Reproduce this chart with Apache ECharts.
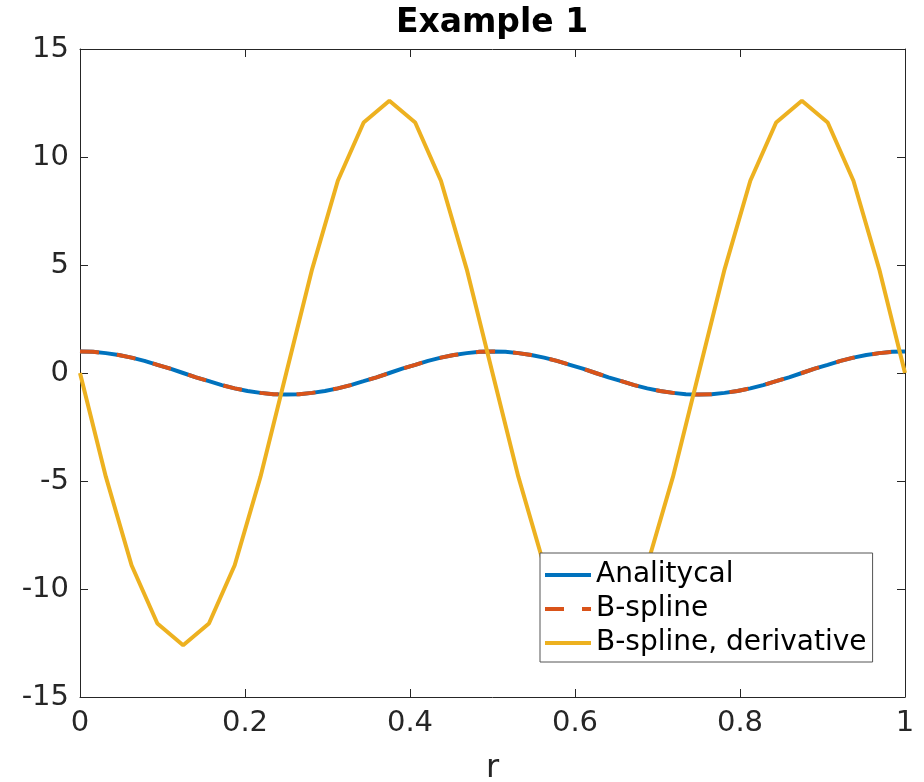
<!DOCTYPE html>
<html>
<head>
<meta charset="utf-8">
<script src="https://cdn.jsdelivr.net/npm/echarts@6/dist/echarts.min.js"></script>
<style>html,body{margin:0;padding:0;background:#fff;}#c{width:924px;height:782px;}</style>
</head>
<body>
<div id="c"></div>
<script>
var rFine = [0, 0.0156, 0.0313, 0.0469, 0.0625, 0.0781, 0.0938, 0.1094, 0.125, 0.1406, 0.1563, 0.1719, 0.1875, 0.2031, 0.2188, 0.2344, 0.25, 0.2656, 0.2813, 0.2969, 0.3125, 0.3281, 0.3438, 0.3594, 0.375, 0.3906, 0.4063, 0.4219, 0.4375, 0.4531, 0.4688, 0.4844, 0.5, 0.5156, 0.5313, 0.5469, 0.5625, 0.5781, 0.5938, 0.6094, 0.625, 0.6406, 0.6563, 0.6719, 0.6875, 0.7031, 0.7188, 0.7344, 0.75, 0.7656, 0.7813, 0.7969, 0.8125, 0.8281, 0.8438, 0.8594, 0.875, 0.8906, 0.9063, 0.9219, 0.9375, 0.9531, 0.9688, 0.9844, 1];
var analyticalY = [1, 0.98, 0.92, 0.83, 0.71, 0.56, 0.38, 0.2, 0, -0.2, -0.38, -0.56, -0.71, -0.83, -0.92, -0.98, -1, -0.98, -0.92, -0.83, -0.71, -0.56, -0.38, -0.2, 0, 0.2, 0.38, 0.56, 0.71, 0.83, 0.92, 0.98, 1, 0.98, 0.92, 0.83, 0.71, 0.56, 0.38, 0.2, 0, -0.2, -0.38, -0.56, -0.71, -0.83, -0.92, -0.98, -1, -0.98, -0.92, -0.83, -0.71, -0.56, -0.38, -0.2, 0, 0.2, 0.38, 0.56, 0.71, 0.83, 0.92, 0.98, 1];
var bsplineY = [1, 0.98, 0.92, 0.83, 0.71, 0.56, 0.38, 0.2, 0, -0.2, -0.38, -0.56, -0.71, -0.83, -0.92, -0.98, -1, -0.98, -0.92, -0.83, -0.71, -0.56, -0.38, -0.2, 0, 0.2, 0.38, 0.56, 0.71, 0.83, 0.92, 0.98, 1, 0.98, 0.92, 0.83, 0.71, 0.56, 0.38, 0.2, 0, -0.2, -0.38, -0.56, -0.71, -0.83, -0.92, -0.98, -1, -0.98, -0.92, -0.83, -0.71, -0.56, -0.38, -0.2, 0, 0.2, 0.38, 0.56, 0.71, 0.83, 0.92, 0.98, 1];
var rCoarse = [0, 0.0313, 0.0625, 0.0938, 0.125, 0.1563, 0.1875, 0.2188, 0.25, 0.2813, 0.3125, 0.3438, 0.375, 0.4063, 0.4375, 0.4688, 0.5, 0.5313, 0.5625, 0.5938, 0.625, 0.6563, 0.6875, 0.7188, 0.75, 0.7813, 0.8125, 0.8438, 0.875, 0.9063, 0.9375, 0.9688, 1];
var derivativeY = [0, -4.8, -8.9, -11.6, -12.6, -11.6, -8.9, -4.8, 0, 4.8, 8.9, 11.6, 12.6, 11.6, 8.9, 4.8, 0, -4.8, -8.9, -11.6, -12.6, -11.6, -8.9, -4.8, 0, 4.8, 8.9, 11.6, 12.6, 11.6, 8.9, 4.8, 0];
var seriesNames = ['Analitycal', 'B-spline', 'B-spline, derivative'];
var titleText = 'Example 1';
var xName = 'r';

function zip(xs, ys) { return xs.map(function (x, i) { return [x, ys[i]]; }); }

var FONT = 'DejaVu Sans';
var AX = '#262626';
var C1 = '#0072BD', C2 = '#D95319', C3 = '#EDB120';
var SOLID_ICON = 'path://M0,0H46V4H0Z';
var DASH_ICON = 'path://M0,0H19V4H0ZM37,0H46V4H37Z';
var chart = echarts.init(document.getElementById('c'), null, {renderer: 'canvas'});
var axisCommon = {
  axisLine: {show: true, onZero: false, lineStyle: {color: AX, width: 1}},
  axisTick: {show: true, inside: true, length: 8, lineStyle: {color: AX, width: 1}},
  splitLine: {show: false}
};
chart.setOption({
  backgroundColor: '#fff',
  animation: false,
  title: {
    text: titleText, left: 492, top: 7, textAlign: 'center', padding: 0,
    textStyle: {fontFamily: FONT, fontWeight: 'bold', fontSize: 33, color: '#000'}
  },
  grid: {left: 80, right: 19, top: 49, bottom: 85, containLabel: false, outerBoundsMode: 'none'},
  legend: {
    orient: 'vertical', left: 540, top: 553,
    backgroundColor: '#fff', borderColor: '#555', borderWidth: 1,
    padding: [8, 6, 5, 5], itemGap: 6, itemWidth: 46, itemHeight: 4,
    symbolKeepAspect: false,
    textStyle: {fontFamily: FONT, fontSize: 28, color: '#000'},
    data: [
      {name: seriesNames[0], icon: SOLID_ICON, itemStyle: {color: C1}},
      {name: seriesNames[1], icon: DASH_ICON, itemStyle: {color: C2}},
      {name: seriesNames[2], icon: SOLID_ICON, itemStyle: {color: C3}}
    ]
  },
  xAxis: [
    Object.assign({
      type: 'value', min: 0, max: 1, interval: 0.2, position: 'bottom',
      name: xName, nameLocation: 'middle', nameGap: 56,
      nameTextStyle: {fontFamily: FONT, fontSize: 32, color: AX},
      axisLabel: {fontFamily: FONT, fontSize: 29, color: AX, margin: 12}
    }, axisCommon),
    Object.assign({
      type: 'value', min: 0, max: 1, interval: 0.2, position: 'top',
      axisLabel: {show: false}
    }, axisCommon)
  ],
  yAxis: [
    Object.assign({
      type: 'value', min: -15, max: 15, interval: 5, position: 'left',
      axisLabel: {fontFamily: FONT, fontSize: 29, color: AX, margin: 11}
    }, axisCommon),
    Object.assign({
      type: 'value', min: -15, max: 15, interval: 5, position: 'right',
      axisLabel: {show: false}
    }, axisCommon)
  ],
  series: [
    {name: seriesNames[0], type: 'line', data: zip(rFine, analyticalY), showSymbol: false, symbol: 'none',
     lineStyle: {color: C1, width: 4}, itemStyle: {color: C1}},
    {name: seriesNames[1], type: 'line', data: zip(rFine, bsplineY), showSymbol: false, symbol: 'none',
     lineStyle: {color: C2, width: 4, type: [19, 18]}, itemStyle: {color: C2}},
    {name: seriesNames[2], type: 'line', data: zip(rCoarse, derivativeY), showSymbol: false, symbol: 'none',
     lineStyle: {color: C3, width: 4}, itemStyle: {color: C3}}
  ]
});
</script>
</body>
</html>
